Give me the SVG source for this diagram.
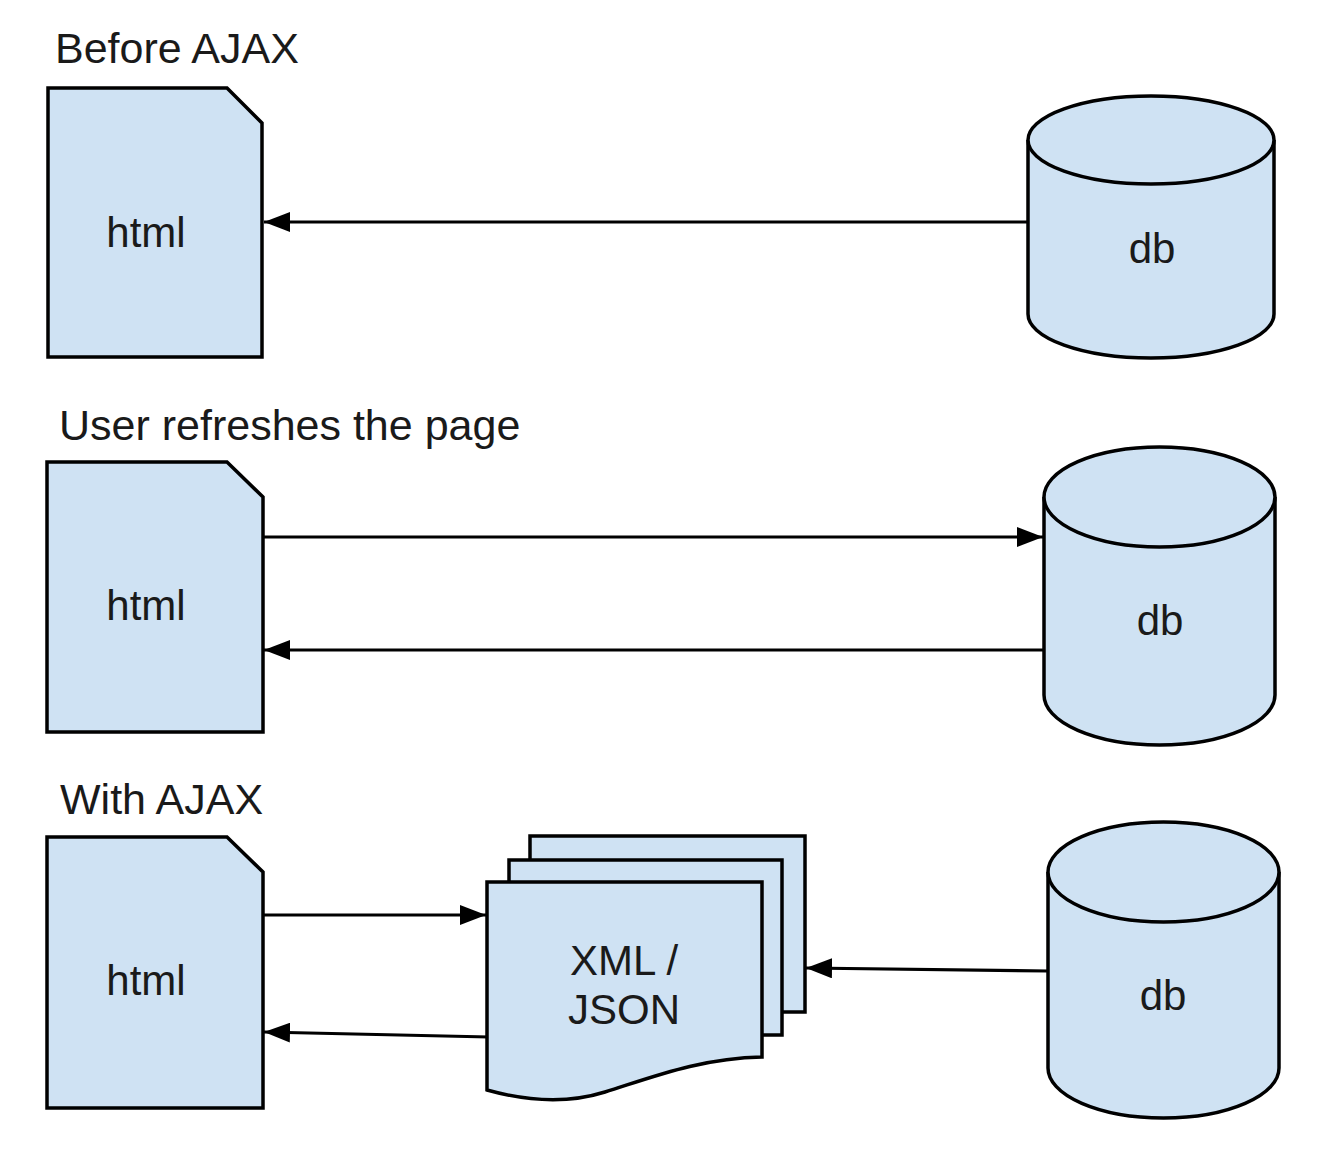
<svg xmlns="http://www.w3.org/2000/svg" width="1322" height="1176" viewBox="0 0 1322 1176">
<style>
.shape{fill:#cfe2f3;stroke:#000;stroke-width:3.5;stroke-linejoin:miter}
.edge{fill:none;stroke:#000;stroke-width:3.2}
.title{font-family:"Liberation Sans",Arial,sans-serif;font-size:43px;fill:#1a1a1a}
.label{font-family:"Liberation Sans",Arial,sans-serif;font-size:42px;fill:#1a1a1a;text-anchor:middle}
</style>
<defs>
<marker id="arr" viewBox="0 0 26 20" refX="26" refY="10" markerWidth="26" markerHeight="20" markerUnits="userSpaceOnUse" orient="auto">
<path d="M0,0 L26,10 L0,20 Z" fill="#000"/>
</marker>
</defs>
<rect width="1322" height="1176" fill="#fff"/>

<text class="title" x="55" y="63">Before AJAX</text>
<text class="title" x="59" y="440">User refreshes the page</text>
<text class="title" x="60" y="814">With AJAX</text>

<g id="connectors">
<line class="edge" x1="1028" y1="222" x2="264" y2="222" marker-end="url(#arr)"/>
<line class="edge" x1="264" y1="537" x2="1043" y2="537" marker-end="url(#arr)"/>
<line class="edge" x1="1044" y1="650" x2="264" y2="650" marker-end="url(#arr)"/>
<line class="edge" x1="264" y1="915" x2="486" y2="915" marker-end="url(#arr)"/>
<line class="edge" x1="489" y1="1037" x2="264" y2="1032" marker-end="url(#arr)"/>
<line class="edge" x1="1048" y1="971" x2="806" y2="968" marker-end="url(#arr)"/>
</g>

<g id="html1">
<path class="shape" d="M48,88 H227 L262,123 V357 H48 Z"/>
<text class="label" x="146" y="247">html</text>
</g>
<g id="db1">
<path class="shape" d="M1028,140 A123,44 0 0 1 1274,140 V314 A123,44 0 0 1 1028,314 Z"/>
<path class="shape" fill="none" d="M1028,140 A123,44 0 0 0 1274,140"/>
<text class="label" x="1152" y="263">db</text>
</g>

<g id="html2">
<path class="shape" d="M47,462 H227 L263,497 V732 H47 Z"/>
<text class="label" x="146" y="620">html</text>
</g>
<g id="db2">
<path class="shape" d="M1044,497 A115.5,50 0 0 1 1275,497 V695 A115.5,50 0 0 1 1044,695 Z"/>
<path class="shape" d="M1044,497 A115.5,50 0 0 0 1275,497"/>
<text class="label" x="1160" y="635">db</text>
</g>

<g id="html3">
<path class="shape" d="M47,837 H227 L263,872 V1108 H47 Z"/>
<text class="label" x="146" y="995">html</text>
</g>
<g id="xmljson">
<rect class="shape" x="530" y="836" width="275" height="176"/>
<rect class="shape" x="509" y="860" width="273" height="175"/>
<path class="shape" d="M487,882 H762 V1057 C700,1058 650,1078 605,1092 C570,1103 530,1102 487,1090 Z"/>
<text class="label" x="624" y="975">XML /</text>
<text class="label" x="624" y="1024">JSON</text>
</g>
<g id="db3">
<path class="shape" d="M1048,872 A115.5,50 0 0 1 1279,872 V1068 A115.5,50 0 0 1 1048,1068 Z"/>
<path class="shape" d="M1048,872 A115.5,50 0 0 0 1279,872"/>
<text class="label" x="1163" y="1010">db</text>
</g>
</svg>
